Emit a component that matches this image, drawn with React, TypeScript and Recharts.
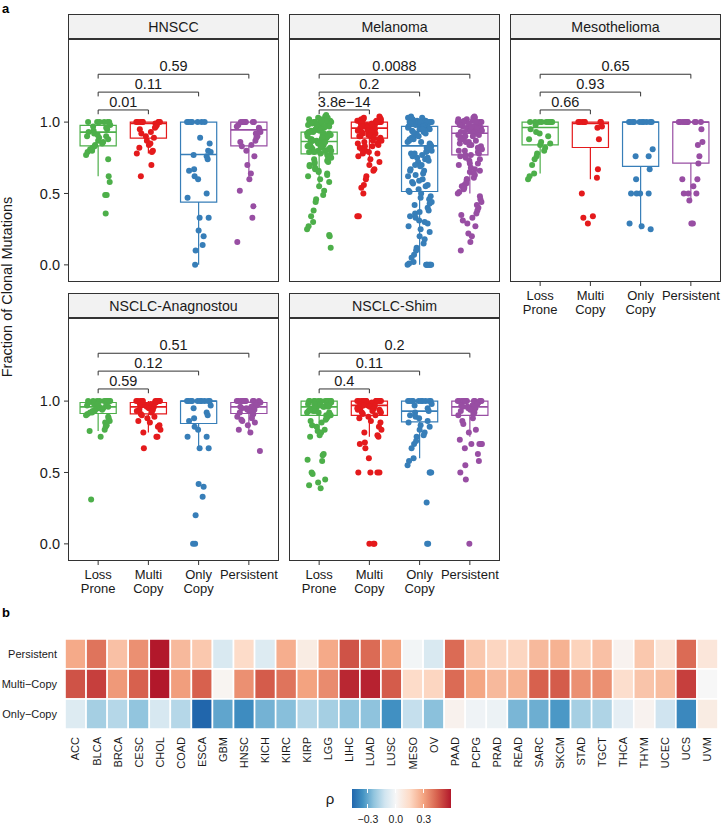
import React from 'react';
import { ComposedChart, Scatter, XAxis, YAxis, ReferenceArea, ReferenceLine, BarChart, Bar, Cell } from 'recharts';

const FONT = '"Liberation Sans", Arial, Helvetica, sans-serif';
const INK = '#1a1a1a';

// ---------- panel a ----------
const groupTickLines = [['Loss', 'Prone'], ['Multi', 'Copy'], ['Only', 'Copy'], ['Persistent']];
const groupColors = ['#4DAF4A', '#E41A1C', '#377EB8', '#984EA3'];

// hand-placed horizontal jitter, in category units
const jitter = [0.12, -0.18, 0.05, 0.21, -0.07, -0.22, 0.16, -0.02, 0.09, -0.14, 0.23, -0.11, 0.02, 0.18, -0.2, 0.07, -0.05, 0.14, -0.16, 0.2,
  -0.09, 0.03, -0.23, 0.11, 0.17, -0.12, 0.0, -0.19, 0.22, 0.06, -0.03, 0.15, -0.21, 0.1, -0.08, 0.19, -0.15, 0.04, 0.13, -0.24,
  0.08, -0.01, 0.24, -0.13, 0.01, -0.17, 0.2, -0.06, 0.16, -0.1];

// fraction of clonal mutations per sample
const hnsccLoss = [1, 1, 1, 1, 1, 1, 0.98, 0.97, 0.96, 0.95, 0.94, 0.93, 0.92, 0.91, 0.9, 0.9, 0.89, 0.88, 0.87, 0.86, 0.85, 0.84, 0.83, 0.82, 0.81, 0.8, 0.79, 0.77, 0.74, 0.62, 0.58, 0.49, 0.49, 0.36];
const hnsccMulti = [1, 1, 1, 1, 1, 1, 1, 1, 0.99, 0.98, 0.97, 0.96, 0.95, 0.93, 0.92, 0.9, 0.89, 0.87, 0.85, 0.84, 0.82, 0.8, 0.79, 0.78, 0.7, 0.62];
const hnsccOnly = [1, 1, 1, 1, 1, 1, 1, 0.89, 0.85, 0.8, 0.79, 0.77, 0.76, 0.74, 0.67, 0.66, 0.62, 0.6, 0.5, 0.47, 0.33, 0.33, 0.24, 0.2, 0.14, 0.1, 0];
const hnsccPers = [1, 1, 1, 1, 1, 1, 1, 0.98, 0.97, 0.96, 0.95, 0.93, 0.92, 0.9, 0.89, 0.87, 0.86, 0.84, 0.83, 0.8, 0.76, 0.7, 0.64, 0.6, 0.52, 0.41, 0.33, 0.16];

const melLoss = [1.04, 1.03, 1.02, 1.02, 1.01, 1.01, 1, 1, 1, 1, 1, 1, 1, 0.99, 0.99, 0.98, 0.98, 0.97, 0.97, 0.96, 0.96, 0.95, 0.95, 0.94, 0.94, 0.93, 0.93, 0.92, 0.92, 0.91,
  0.91, 0.9, 0.9, 0.89, 0.89, 0.88, 0.88, 0.87, 0.87, 0.86, 0.86, 0.85, 0.85, 0.84, 0.84, 0.83, 0.83, 0.82, 0.82, 0.81, 0.8, 0.8, 0.79, 0.78, 0.77, 0.76, 0.75, 0.74, 0.73, 0.72,
  0.71, 0.7, 0.68, 0.66, 0.64, 0.62, 0.6, 0.58, 0.55, 0.52, 0.49, 0.46, 0.44, 0.38, 0.34, 0.3, 0.27, 0.25, 0.21, 0.2, 0.12,
  1.05, 1.03, 1.02, 1.01, 1, 1, 0.99, 0.98, 0.97, 0.96, 0.95, 0.94, 0.93, 0.92, 0.91, 0.9, 0.89, 0.88, 0.87, 0.86, 0.85, 0.84, 0.83, 0.82, 0.81, 0.8, 0.79, 0.77, 0.75, 0.72,
  0.69, 0.67, 0.65, 0.63];
const melMulti = [1.03, 1.02, 1.02, 1.01, 1.01, 1, 1, 1, 1, 1, 1, 1, 1, 0.99, 0.99, 0.98, 0.98, 0.97, 0.97, 0.96, 0.96, 0.95, 0.95, 0.94, 0.94, 0.93, 0.92, 0.92, 0.91, 0.9,
  0.9, 0.89, 0.88, 0.87, 0.86, 0.85, 0.84, 0.83, 0.82, 0.8, 0.79, 0.78, 0.76, 0.74, 0.72, 0.7, 0.67, 0.66, 0.62, 0.6, 0.56, 0.54, 0.5, 0.34, 0.34,
  1.04, 1.03, 1.02, 1.01, 1, 1, 1, 0.99, 0.98, 0.97, 0.96, 0.95, 0.94, 0.93, 0.91, 0.9, 0.89, 0.87, 0.85, 0.83, 0.81, 0.78];
const melOnly = [1.03, 1.02, 1.02, 1.01, 1.01, 1, 1, 1, 1, 1, 1, 1, 1, 1, 0.99, 0.99, 0.98, 0.98, 0.97, 0.97, 0.96, 0.95, 0.95, 0.94, 0.93, 0.92, 0.91, 0.9, 0.89, 0.88,
  0.87, 0.86, 0.85, 0.84, 0.83, 0.82, 0.81, 0.8, 0.79, 0.78, 0.77, 0.76, 0.75, 0.74, 0.72, 0.7, 0.69, 0.67, 0.66, 0.64, 0.62, 0.6, 0.58, 0.57, 0.55, 0.53, 0.51, 0.5, 0.48, 0.46,
  0.44, 0.42, 0.4, 0.38, 0.36, 0.34, 0.33, 0.31, 0.29, 0.27, 0.25, 0.23, 0.2, 0.18, 0.15, 0.12, 0.1, 0.07, 0.05, 0.02, 0.01, 0, 0, 0, 0, 0, 0, 0, 0,
  1.04, 1.03, 1.02, 1.01, 1, 1, 1, 1, 0.99, 0.98, 0.97, 0.96, 0.95, 0.94, 0.93, 0.92, 0.9, 0.88, 0.86, 0.84, 0.82, 0.8, 0.78, 0.75, 0.73, 0.7, 0.66, 0.63, 0.59, 0.56,
  0.52, 0.47, 0.43, 0.37, 0.3];
const melPers = [1.03, 1.02, 1.02, 1.01, 1.01, 1, 1, 1, 1, 1, 1, 1, 1, 0.99, 0.99, 0.98, 0.98, 0.97, 0.97, 0.96, 0.96, 0.95, 0.95, 0.94, 0.93, 0.93, 0.92, 0.91, 0.9, 0.89,
  0.88, 0.87, 0.86, 0.85, 0.84, 0.83, 0.82, 0.81, 0.8, 0.79, 0.78, 0.77, 0.76, 0.75, 0.73, 0.71, 0.7, 0.68, 0.66, 0.65, 0.63, 0.61, 0.6, 0.58, 0.56, 0.55, 0.53, 0.51, 0.5, 0.48,
  0.46, 0.44, 0.42, 0.4, 0.38, 0.36, 0.35, 0.33, 0.31, 0.29, 0.27, 0.22, 0.2, 0.16, 0.1,
  1.04, 1.03, 1.02, 1.01, 1, 1, 1, 0.99, 0.98, 0.97, 0.96, 0.95, 0.94, 0.93, 0.92, 0.91, 0.9, 0.88, 0.86, 0.84, 0.82, 0.8, 0.77, 0.74, 0.71, 0.67, 0.64, 0.6, 0.57, 0.54];

const mesoLoss = [1, 1, 1, 1, 1, 1, 1, 1, 1, 1, 0.98, 0.95, 0.93, 0.92, 0.9, 0.88, 0.86, 0.85, 0.84, 0.82, 0.8, 0.78, 0.76, 0.74, 0.7, 0.64, 0.62, 0.6];
const mesoMulti = [1, 1, 1, 1, 1, 1, 1, 0.97, 0.96, 0.88, 0.67, 0.61, 0.5, 0.34, 0.33, 0.29];
const mesoOnly = [1, 1, 1, 1, 1, 1, 1, 1, 1, 1, 0.81, 0.76, 0.76, 0.67, 0.6, 0.5, 0.5, 0.5, 0.5, 0.29, 0.27, 0.25];
const mesoPers = [1, 1, 1, 1, 1, 1, 1, 1, 1, 1, 0.95, 0.86, 0.84, 0.76, 0.71, 0.6, 0.6, 0.55, 0.5, 0.5, 0.5, 0.45, 0.29, 0.29];

const anaLoss = [1, 1, 1, 1, 1, 1, 1, 1, 1, 1, 0.99, 0.99, 0.98, 0.98, 0.97, 0.97, 0.96, 0.96, 0.95, 0.95, 0.94, 0.94, 0.93, 0.93, 0.92, 0.92, 0.91, 0.9, 0.89, 0.88, 0.86, 0.85, 0.83, 0.82, 0.8, 0.79, 0.75, 0.31];
const anaMulti = [1, 1, 1, 1, 1, 1, 1, 1, 1, 1, 0.99, 0.99, 0.98, 0.98, 0.97, 0.97, 0.96, 0.96, 0.95, 0.95, 0.94, 0.94, 0.93, 0.93, 0.92, 0.91, 0.9, 0.89, 0.88, 0.86, 0.85, 0.83, 0.82, 0.8, 0.78, 0.75, 0.75, 0.67];
const anaOnly = [1, 1, 1, 1, 1, 1, 1, 1, 1, 1, 0.97, 0.95, 0.92, 0.9, 0.88, 0.86, 0.82, 0.8, 0.75, 0.75, 0.67, 0.67, 0.42, 0.4, 0.33, 0.2, 0, 0];
const anaPers = [1, 1, 1, 1, 1, 1, 1, 1, 1, 1, 0.99, 0.99, 0.98, 0.98, 0.97, 0.97, 0.96, 0.96, 0.95, 0.95, 0.94, 0.94, 0.93, 0.93, 0.92, 0.91, 0.9, 0.89, 0.88, 0.87, 0.86, 0.85, 0.83, 0.8, 0.78, 0.65];

const shimLoss = [1, 1, 1, 1, 1, 1, 1, 1, 1, 1, 1, 1, 0.99, 0.99, 0.99, 0.98, 0.98, 0.97, 0.97, 0.96, 0.96, 0.95, 0.95, 0.94, 0.94, 0.93, 0.93, 0.92, 0.92, 0.91,
  0.9, 0.9, 0.89, 0.88, 0.87, 0.86, 0.85, 0.83, 0.82, 0.8, 0.79, 0.78, 0.76, 0.75, 0.63, 0.62, 0.59, 0.58, 0.5, 0.49, 0.45, 0.43, 0.41, 0.39,
  1, 1, 0.99, 0.98, 0.97, 0.96, 0.95, 0.94, 0.93, 0.92];
const shimMulti = [1, 1, 1, 1, 1, 1, 1, 1, 1, 1, 1, 1, 0.99, 0.99, 0.98, 0.98, 0.97, 0.97, 0.96, 0.96, 0.95, 0.95, 0.94, 0.94, 0.93, 0.92, 0.91, 0.9, 0.89, 0.88,
  0.86, 0.85, 0.82, 0.8, 0.78, 0.76, 0.75, 0.71, 0.7, 0.67, 0.6, 0.5, 0.5, 0.5, 0.5, 0, 0, 0,
  1, 1, 0.99, 0.98, 0.97, 0.96, 0.95, 0.94, 0.93, 0.92];
const shimOnly = [1, 1, 1, 1, 1, 1, 1, 1, 1, 1, 0.98, 0.97, 0.95, 0.93, 0.92, 0.9, 0.89, 0.88, 0.86, 0.85, 0.83, 0.82, 0.8, 0.78, 0.76, 0.75, 0.72, 0.7, 0.67, 0.6,
  0.58, 0.55, 0.5, 0.5, 0.5, 0.29, 0, 0];
const shimPers = [1, 1, 1, 1, 1, 1, 1, 1, 1, 1, 1, 1, 0.99, 0.99, 0.98, 0.98, 0.97, 0.97, 0.96, 0.96, 0.95, 0.95, 0.94, 0.94, 0.93, 0.92, 0.91, 0.9, 0.88, 0.86,
  0.84, 0.8, 0.78, 0.73, 0.7, 0.7, 0.7, 0.7, 0.67, 0.63, 0.58, 0.55, 0.5, 0.45, 0];

// box stats per group: lower whisker, q1, median, q3, upper whisker
const hnsccBox = [[0.62, 0.834, 0.93, 0.977, 1], [0.78, 0.888, 0.99, 1, 1], [0, 0.44, 0.773, 1, 1], [0.6, 0.834, 0.946, 1, 1]];
const melBox = [[0.55, 0.778, 0.864, 0.93, 1], [0.72, 0.888, 0.958, 1, 1], [0, 0.514, 0.834, 0.97, 1], [0.5, 0.77, 0.922, 0.97, 1]];
const mesoBox = [[0.64, 0.84, 0.962, 1, 1], [0.6, 0.822, 0.99, 1, 1], [0.25, 0.69, 1, 1, 1], [0.44, 0.713, 1, 1, 1]];
const anaBox = [[0.79, 0.913, 0.96, 0.99, 1], [0.78, 0.91, 0.96, 0.99, 1], [0.667, 0.843, 1, 1, 1], [0.78, 0.913, 0.96, 0.99, 1]];
const shimBox = [[0.78, 0.9, 0.96, 1, 1], [0.75, 0.9, 0.97, 1, 1], [0.6, 0.855, 0.93, 1, 1], [0.75, 0.9, 0.96, 1, 1]];

// Loss Prone vs Multi / Only / Persistent
const hnsccP = ['0.01', '0.11', '0.59'];
const melP = ['3.8e\u221214', '0.2', '0.0088'];
const mesoP = ['0.66', '0.93', '0.65'];
const anaP = ['0.59', '0.12', '0.51'];
const shimP = ['0.4', '0.11', '0.2'];
const bracketY = [1.085, 1.21, 1.335];

const facets = [
  { name: 'HNSCC', values: [hnsccLoss, hnsccMulti, hnsccOnly, hnsccPers], boxes: hnsccBox, pvals: hnsccP, col: 0, row: 0, showY: true, showX: false },
  { name: 'Melanoma', values: [melLoss, melMulti, melOnly, melPers], boxes: melBox, pvals: melP, col: 1, row: 0, showY: false, showX: false },
  { name: 'Mesothelioma', values: [mesoLoss, mesoMulti, mesoOnly, mesoPers], boxes: mesoBox, pvals: mesoP, col: 2, row: 0, showY: false, showX: true },
  { name: 'NSCLC-Anagnostou', values: [anaLoss, anaMulti, anaOnly, anaPers], boxes: anaBox, pvals: anaP, col: 0, row: 1, showY: true, showX: true },
  { name: 'NSCLC-Shim', values: [shimLoss, shimMulti, shimOnly, shimPers], boxes: shimBox, pvals: shimP, col: 1, row: 1, showY: false, showX: true },
];

const colLeft = [68, 289, 510];
const rowTop = [14, 293];
const panelW = 211;
const stripH = 26;
const plotH = 242;
const boxHalf = 0.36;

function XTick(props: any) {
  const { x, y, payload } = props;
  const lines = groupTickLines[Math.round(payload.value) - 1] || [];
  return (
    <text x={x} y={y} textAnchor="middle" fontSize={13} fill={INK} fontFamily={FONT}>
      {lines.map((l, k) => <tspan key={k} x={x} dy={k === 0 ? 12 : 13.5}>{l}</tspan>)}
    </text>
  );
}

function Facet({ facet }: { facet: any }) {
  const left = colLeft[facet.col];
  const top = rowTop[facet.row];
  const yW = facet.showY ? 46 : 0;
  const xH = facet.showX ? 40 : 0;
  const series = facet.values.map((vals: number[], g: number) =>
    vals.map((y, k) => ({ x: g + 1 + jitter[(k * 7 + g * 11) % jitter.length], y })));
  const labels = facet.pvals.map((p: string, j: number) => ({ x: (1 + j + 2) / 2, y: bracketY[j], label: p }));
  return (
    <>
      <div style={{ position: 'absolute', left: left - yW, top: top + stripH }}>
        <ComposedChart width={panelW + yW} height={plotH + xH} margin={{ top: 0, right: 0, bottom: 0, left: 0 }}>
          <XAxis type="number" dataKey="x" domain={[0.4, 4.6]} ticks={[1, 2, 3, 4]} interval={0} allowDataOverflow
            hide={!facet.showX} height={xH} axisLine={false} tickLine={{ stroke: '#333' }} tickSize={4}
            tick={(p: any) => <XTick {...p} />} />
          <YAxis type="number" dataKey="y" domain={[-0.12, 1.575]} ticks={[0, 0.5, 1]} interval={0} allowDataOverflow
            hide={!facet.showY} width={yW} axisLine={false} tickLine={{ stroke: '#333' }} tickSize={4} tickMargin={4}
            tickFormatter={(v: number) => v.toFixed(1)} tick={{ fontSize: 14.5, fill: INK, fontFamily: FONT }} />
          {facet.boxes.map((b: number[], g: number) => (
            <ReferenceArea key={'box' + g} x1={g + 1 - boxHalf} x2={g + 1 + boxHalf} y1={b[1]} y2={b[3]}
              fill="none" fillOpacity={0} stroke={groupColors[g]} strokeWidth={1.2} strokeOpacity={1} />
          ))}
          {facet.boxes.map((b: number[], g: number) => (
            <ReferenceLine key={'med' + g} segment={[{ x: g + 1 - boxHalf, y: b[2] }, { x: g + 1 + boxHalf, y: b[2] }]}
              stroke={groupColors[g]} strokeWidth={1.7} />
          ))}
          {facet.boxes.map((b: number[], g: number) => b[0] < b[1] ? (
            <ReferenceLine key={'lw' + g} segment={[{ x: g + 1, y: b[0] }, { x: g + 1, y: b[1] }]} stroke={groupColors[g]} strokeWidth={1.2} />
          ) : null)}
          {facet.boxes.map((b: number[], g: number) => b[4] > b[3] ? (
            <ReferenceLine key={'uw' + g} segment={[{ x: g + 1, y: b[3] }, { x: g + 1, y: b[4] }]} stroke={groupColors[g]} strokeWidth={1.2} />
          ) : null)}
          {series.map((pts: any[], g: number) => (
            <Scatter key={'pts' + g} data={pts} isAnimationActive={false}
              shape={(p: any) => <circle cx={p.cx} cy={p.cy} r={3} fill={groupColors[g]} />} />
          ))}
          {bracketY.map((y, j) => (
            <ReferenceLine key={'br' + j} segment={[{ x: 1, y }, { x: j + 2, y }]} stroke="#333" strokeWidth={1} />
          ))}
          {bracketY.map((y, j) => (
            <ReferenceLine key={'bl' + j} segment={[{ x: 1, y }, { x: 1, y: y - 0.03 }]} stroke="#333" strokeWidth={1} />
          ))}
          {bracketY.map((y, j) => (
            <ReferenceLine key={'bt' + j} segment={[{ x: j + 2, y }, { x: j + 2, y: y - 0.03 }]} stroke="#333" strokeWidth={1} />
          ))}
          <Scatter data={labels} isAnimationActive={false}
            shape={(p: any) => (
              <text x={p.cx} y={p.cy - 3} textAnchor="middle" fontSize={14.5} fill={INK} fontFamily={FONT}>{p.payload.label}</text>
            )} />
        </ComposedChart>
      </div>
      <div style={{ position: 'absolute', left, top, width: panelW, height: stripH + plotH, border: '1px solid #333', boxSizing: 'border-box', pointerEvents: 'none' }}>
        <div style={{ height: stripH - 1, background: '#F2F2F2', borderBottom: '2px solid #333', boxSizing: 'border-box', display: 'flex', alignItems: 'center', justifyContent: 'center', fontFamily: FONT, fontSize: 14.2, color: INK }}>
          {facet.name}
        </div>
      </div>
    </>
  );
}

// ---------- panel b ----------
const cancers = ['ACC', 'BLCA', 'BRCA', 'CESC', 'CHOL', 'COAD', 'ESCA', 'GBM', 'HNSC', 'KICH', 'KIRC', 'KIRP', 'LGG', 'LIHC', 'LUAD', 'LUSC',
  'MESO', 'OV', 'PAAD', 'PCPG', 'PRAD', 'READ', 'SARC', 'SKCM', 'STAD', 'TGCT', 'THCA', 'THYM', 'UCEC', 'UCS', 'UVM'];
const heatRows = ['Persistent', 'Multi\u2212Copy', 'Only\u2212Copy'];
const rhoPersistent = [0.28, 0.4, 0.22, 0.34, 0.59, 0.24, 0.2, -0.094, 0.14, -0.08, 0.27, 0.06, 0.28, 0.47, 0.42, 0.3,
  -0.015, -0.094, 0.42, 0.2, 0.16, 0.16, 0.24, 0.26, 0.17, 0.22, 0.024, 0.2, 0.094, 0.42, 0.09];
const rhoMultiCopy = [0.47, 0.51, 0.32, 0.44, 0.59, 0.31, 0.44, 0.018, 0.34, 0.45, 0.4, 0.3, 0.35, 0.56, 0.57, 0.45,
  0.14, 0.16, 0.42, 0.29, 0.24, 0.26, 0.44, 0.45, 0.34, 0.34, 0.13, 0.21, 0.23, 0.51, 0.0];
const rhoOnlyCopy = [-0.08, -0.2, -0.17, -0.235, -0.1, -0.17, -0.47, -0.31, -0.37, -0.28, -0.25, -0.17, -0.2, -0.235, -0.24, -0.36,
  -0.14, -0.245, 0.03, -0.024, -0.033, -0.27, -0.29, -0.34, -0.2, -0.18, -0.056, 0.024, -0.12, -0.38, 0.06];

const rhoMin = -0.47;
const rhoMax = 0.59;
const negStops = ['#F7F7F7', '#D1E5F0', '#92C5DE', '#4393C3', '#2166AC'];
const posStops = ['#F7F7F7', '#FDDBC7', '#F4A582', '#D6604D', '#B2182B'];

function mix(a: string, b: string, t: number) {
  const pa = [1, 3, 5].map((i) => parseInt(a.slice(i, i + 2), 16));
  const pb = [1, 3, 5].map((i) => parseInt(b.slice(i, i + 2), 16));
  return 'rgb(' + pa.map((v, i) => Math.round(v + (pb[i] - v) * t)).join(',') + ')';
}

function rhoColor(v: number) {
  const stops = v < 0 ? negStops : posStops;
  const f = Math.min(1, v < 0 ? v / rhoMin : v / rhoMax);
  const s = f * (stops.length - 1);
  const i = Math.min(stops.length - 2, Math.floor(s));
  return mix(stops[i], stops[i + 1], s - i);
}

function CancerTick(props: any) {
  const { x, y, payload } = props;
  return (
    <text x={x} y={y} transform={`rotate(-90, ${x}, ${y})`} textAnchor="end" dy="0.36em" fontSize={11} fill={INK} fontFamily={FONT}>
      {cancers[Math.floor(payload.value)]}
    </text>
  );
}

function Heatmap() {
  const data = heatRows.map((row) => {
    const d: any = { row };
    cancers.forEach((c) => { d[c] = 1; });
    return d;
  });
  const rhoByRow = [rhoPersistent, rhoMultiCopy, rhoOnlyCopy];
  return (
    <div style={{ position: 'absolute', left: 0, top: 639 }}>
      <BarChart layout="vertical" width={718} height={146} data={data} margin={{ top: 0, right: 0, bottom: 0, left: 0 }} barCategoryGap={0}>
        <XAxis type="number" domain={[0, cancers.length]} allowDataOverflow ticks={cancers.map((_, i) => i + 0.5)} interval={0}
          axisLine={false} tickLine={false} tickSize={0} tickMargin={8} height={56} tick={(p: any) => <CancerTick {...p} />} />
        <YAxis type="category" dataKey="row" width={65} axisLine={false} tickLine={false} tickSize={0} tickMargin={8}
          tick={{ fontSize: 11, fill: INK, fontFamily: FONT }} />
        {cancers.map((c, i) => (
          <Bar key={c} dataKey={c} stackId="h" isAnimationActive={false} stroke="#fff" strokeWidth={1.6}>
            {rhoByRow.map((r, k) => <Cell key={k} fill={rhoColor(r[i])} />)}
          </Bar>
        ))}
      </BarChart>
    </div>
  );
}

const barTicks = [-0.3, 0, 0.3];
const barLeft = 352;
const barWidth = 99;

function ColorBar() {
  const pos = (v: number) => ((v - rhoMin) / (rhoMax - rhoMin)) * 100;
  const parts: string[] = [];
  negStops.slice().reverse().forEach((c, i) => parts.push(`${c} ${pos(rhoMin * (1 - i / 4)).toFixed(2)}%`));
  posStops.slice(1).forEach((c, i) => parts.push(`${c} ${pos(rhoMax * ((i + 1) / 4)).toFixed(2)}%`));
  return (
    <div style={{ position: 'absolute', left: barLeft, top: 789, width: barWidth, height: 19, background: `linear-gradient(to right, ${parts.join(', ')})` }}>
      {barTicks.map((t) => (
        <React.Fragment key={t}>
          <div style={{ position: 'absolute', left: (pos(t) / 100) * barWidth - 0.5, top: 0, width: 1, height: 4, background: '#fff' }} />
          <div style={{ position: 'absolute', left: (pos(t) / 100) * barWidth - 0.5, bottom: 0, width: 1, height: 4, background: '#fff' }} />
        </React.Fragment>
      ))}
    </div>
  );
}

export default function App() {
  const pos = (v: number) => barLeft + ((v - rhoMin) / (rhoMax - rhoMin)) * barWidth;
  return (
    <div style={{ position: 'absolute', left: 0, top: 0, width: 722, height: 825, background: '#fff', fontFamily: FONT }}>
      <svg width={722} height={825} style={{ position: 'absolute', left: 0, top: 0 }}>
        <text x={2} y={13} fontSize={13} fontWeight="bold" fill="#000" fontFamily={FONT}>a</text>
        <text x={2} y={617} fontSize={13} fontWeight="bold" fill="#000" fontFamily={FONT}>b</text>
        <text transform="translate(12, 287) rotate(-90)" textAnchor="middle" fontSize={14.5} fill={INK} fontFamily={FONT}>
          Fraction of Clonal Mutations
        </text>
        <text x={330} y={804} textAnchor="middle" fontSize={15} fill={INK} fontFamily={FONT}>ρ</text>
        {barTicks.map((t) => (
          <text key={t} x={pos(t)} y={823} textAnchor="middle" fontSize={10.5} fill={INK} fontFamily={FONT}>
            {t === 0 ? '0.0' : t < 0 ? '\u2212' + Math.abs(t).toFixed(1) : t.toFixed(1)}
          </text>
        ))}
      </svg>
      {facets.map((f) => <Facet key={f.name} facet={f} />)}
      <Heatmap />
      <ColorBar />
    </div>
  );
}
